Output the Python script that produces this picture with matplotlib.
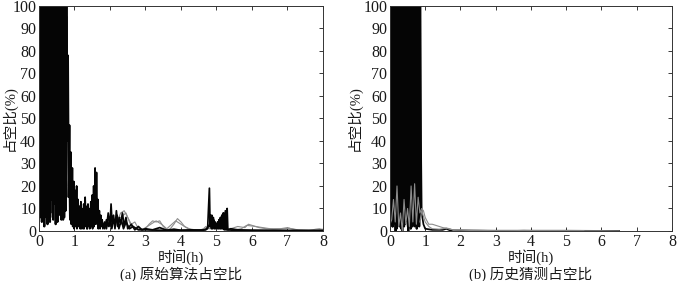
import matplotlib as mpl
import matplotlib.pyplot as plt
import numpy as np

mpl.rcParams['font.family'] = ['Liberation Serif', 'Noto Sans CJK SC']
mpl.rcParams['axes.unicode_minus'] = False

# ---- data (time in h, duty ratio in %) ----
# (a) original algorithm: dense burst 0-0.78h, sampled every 0.02h
a_dense_t = np.linspace(0, 0.78, 40)
a_dense_1 = [25, 100, 10, 100, 4, 100, 18, 100, 6, 88, 12, 100, 3, 100, 22, 100, 8, 100, 14, 80,
             5, 100, 16, 100, 9, 100, 4, 92, 20, 100, 7, 100, 13, 100, 5, 100, 10, 100, 15, 100]
a_dense_2 = [100, 6, 100, 15, 100, 9, 100, 2, 100, 17, 100, 7, 100, 11, 100, 4, 100, 19, 100, 6,
             100, 12, 100, 3, 100, 14, 100, 8, 100, 10, 100, 5, 100, 16, 100, 6, 100, 9, 100, 62]

a_tail_1 = [(0.78, 95), (0.80, 40), (0.82, 78), (0.84, 20), (0.86, 47), (0.88, 12), (0.90, 35),
            (0.92, 8), (0.94, 28), (0.96, 5), (0.98, 22), (1.00, 3), (1.02, 18), (1.04, 6),
            (1.06, 20), (1.08, 2), (1.10, 14), (1.12, 4), (1.14, 11), (1.16, 1), (1.18, 13),
            (1.20, 3), (1.22, 9), (1.24, 1), (1.26, 12), (1.28, 2), (1.30, 15), (1.32, 3),
            (1.34, 8), (1.36, 1), (1.38, 12), (1.40, 2), (1.42, 9), (1.44, 4), (1.46, 13),
            (1.48, 2), (1.50, 16), (1.52, 5), (1.54, 20), (1.56, 4), (1.58, 28), (1.60, 6),
            (1.62, 26), (1.64, 3), (1.66, 14), (1.68, 2), (1.70, 9), (1.72, 1), (1.74, 7),
            (1.76, 2), (1.78, 5), (1.80, 1), (1.85, 4), (1.90, 1), (1.95, 8), (2.00, 2),
            (2.03, 12), (2.06, 3), (2.10, 7), (2.14, 1), (2.18, 9), (2.22, 2), (2.26, 6),
            (2.30, 3), (2.35, 8), (2.40, 2), (2.45, 6), (2.50, 1), (2.60, 3), (2.70, 0.5),
            (2.80, 2), (2.90, 0.5), (3.00, 1), (3.20, 0.5), (3.40, 1.5), (3.60, 0.3), (3.80, 0.8),
            (4.00, 0.3), (4.30, 0.5), (4.60, 0.2), (4.75, 1), (4.80, 19), (4.82, 2), (4.84, 7),
            (4.86, 1), (4.88, 6), (4.90, 2), (4.92, 5), (4.94, 1), (4.96, 4), (4.98, 1),
            (5.00, 3), (5.02, 1), (5.04, 4), (5.06, 1), (5.08, 5), (5.10, 1), (5.12, 6),
            (5.14, 2), (5.16, 7), (5.18, 1), (5.20, 8), (5.22, 0.5), (5.25, 9), (5.28, 1),
            (5.30, 10), (5.32, 0.5), (5.40, 1), (5.60, 0.5), (6.00, 0.3), (7.00, 0.2), (8.00, 0.2)]

a_tail_2 = [(0.81, 60), (0.83, 15), (0.85, 30), (0.87, 5), (0.89, 25), (0.91, 3), (0.93, 18),
            (0.95, 2), (0.97, 15), (0.99, 1), (1.01, 10), (1.03, 2), (1.05, 12), (1.07, 1),
            (1.09, 9), (1.11, 2), (1.13, 10), (1.15, 3), (1.17, 7), (1.19, 1), (1.21, 10),
            (1.23, 2), (1.25, 8), (1.27, 1), (1.29, 9), (1.31, 2), (1.33, 11), (1.35, 1),
            (1.37, 7), (1.39, 3), (1.41, 10), (1.43, 1), (1.45, 8), (1.47, 2), (1.49, 11),
            (1.51, 1), (1.53, 12), (1.55, 2), (1.57, 18), (1.59, 3), (1.61, 22), (1.63, 4),
            (1.65, 12), (1.67, 1), (1.69, 6), (1.71, 2), (1.75, 5), (1.80, 3), (1.85, 1),
            (1.90, 5), (1.95, 2), (2.00, 6), (2.05, 1), (2.10, 5), (2.15, 2), (2.20, 7),
            (2.25, 1), (2.32, 5), (2.38, 1), (2.45, 4), (2.55, 1), (2.65, 2), (2.80, 0.5),
            (3.00, 0.5), (3.50, 0.3), (4.20, 0.3), (4.70, 0.5), (4.81, 3), (4.83, 6), (4.85, 2),
            (4.87, 7), (4.89, 1), (4.91, 6), (4.93, 2), (4.95, 4), (4.97, 2), (4.99, 3),
            (5.01, 2), (5.03, 4), (5.05, 2), (5.07, 5), (5.09, 2), (5.11, 6), (5.13, 1),
            (5.15, 7), (5.17, 2), (5.19, 8), (5.21, 1), (5.23, 7), (5.26, 0.5), (5.30, 0.5),
            (5.50, 0.3), (6.50, 0.2), (8.00, 0.1)]

a_grey_1 = [(2.2, 4), (2.3, 8), (2.4, 9), (2.5, 6), (2.6, 3), (2.7, 4), (2.8, 1), (3.0, 1),
            (3.1, 3), (3.2, 4.5), (3.3, 4), (3.4, 4.5), (3.5, 2), (3.6, 0.5), (3.7, 1), (3.8, 3),
            (3.9, 5.5), (4.0, 4), (4.1, 2), (4.3, 0.5), (4.6, 0.5), (4.7, 2), (4.8, 1), (5.4, 1),
            (5.6, 2), (5.8, 1.5), (5.9, 3), (6.0, 2.5), (6.2, 1.5), (6.4, 1), (6.6, 1), (6.8, 1),
            (7.0, 1.5), (7.1, 1), (7.3, 0.3), (7.6, 0.2), (7.8, 0.8), (7.9, 1), (8.0, 0.5)]
a_grey_2 = [(2.3, 6), (2.45, 8), (2.6, 2), (2.9, 0.5), (3.15, 3), (3.3, 4.5), (3.45, 3), (3.6, 1),
            (3.85, 4.5), (4.0, 3), (4.2, 1), (4.5, 0.3), (4.75, 1.5), (5.5, 0.5), (5.7, 1),
            (5.85, 2.5), (6.1, 2), (6.3, 1.5), (6.6, 0.8), (6.9, 1), (7.05, 1.2), (7.3, 0.5),
            (7.7, 0.3), (8.0, 0.8)]

# (b) history-guess: dense burst 0-0.86h
b_dense_t = np.linspace(0, 0.86, 44)
b_dense_1 = [3, 100, 5, 100, 2, 100, 6, 100, 0, 100, 4, 100, 3, 100, 7, 100, 1, 100, 5, 100, 2, 100,
             4, 100, 6, 100, 0, 100, 3, 100, 5, 100, 2, 100, 4, 100, 6, 100, 1, 100, 3, 100, 5, 100]
b_dense_2 = [100, 4, 100, 2, 100, 6, 100, 3, 100, 1, 100, 5, 100, 2, 100, 4, 100, 0, 100, 6, 100, 3,
             100, 5, 100, 2, 100, 4, 100, 1, 100, 6, 100, 3, 100, 2, 100, 5, 100, 4, 100, 2, 100, 30]
b_tail = [(0.86, 100), (0.88, 40), (0.90, 8), (0.95, 3), (1.00, 1), (1.20, 0.5), (1.50, 0.5),
          (1.60, 1), (1.70, 0.3), (2.00, 0.2), (3.00, 0.1), (4.00, 0.1), (5.00, 0.1), (6.50, 0)]
b_grey_1 = [(0.0, 3), (0.05, 5), (0.10, 14), (0.15, 4), (0.20, 20), (0.25, 2), (0.30, 8),
            (0.35, 0), (0.40, 14), (0.45, 3), (0.50, 10), (0.55, 2), (0.60, 20), (0.65, 4),
            (0.70, 21), (0.75, 3), (0.80, 15), (0.85, 8), (0.90, 10), (0.95, 9), (1.0, 6),
            (1.1, 3), (1.2, 3), (1.3, 2.5), (1.4, 2), (1.5, 1.5), (1.6, 1.2), (1.7, 0.8),
            (1.8, 0.5), (2.0, 0.4), (2.5, 0.3), (3.0, 0.1), (4.0, 0.2), (5.0, 0.1), (6.0, 0.1),
            (6.5, 0.0)]
b_grey_2 = [(0.85, 4), (0.9, 9), (1.0, 4), (1.1, 2), (1.2, 1), (1.4, 0.8), (1.5, 1), (1.6, 1.3),
            (1.7, 1), (1.8, 0.3), (2.0, 0.5), (2.3, 0.2), (2.6, 0.1), (3.5, 0.1), (3.8, 0.3),
            (4.2, 0.1), (5.5, 0.1)]

x_ticks = list(range(0, 9))
y_ticks = list(range(0, 101, 10))
captions = ['(a) 原始算法占空比', '(b) 历史猜测占空比']

BLACK = '#050505'
GREY = '#8c8c8c'
LW_DENSE = 1.5
LW_TAIL = 1.25


def unzip(pairs):
    t, v = zip(*pairs)
    return np.array(t), np.array(v)


def style_axes(ax, ylab_x):
    ax.set_xlim(0, 8)
    ax.set_ylim(0, 100)
    ax.set_xticks(x_ticks)
    ax.set_yticks(y_ticks)
    ax.tick_params(direction='in', top=True, right=True, length=3, width=0.6,
                   labelsize=11.5, pad=2, colors='#1a1a1a')
    for s in ax.spines.values():
        s.set_linewidth(0.7)
        s.set_color('#333333')
    ax.set_xlabel('时间(h)', fontsize=10.5, color='#1a1a1a')
    ax.set_ylabel('占空比(%)', fontsize=10.5, color='#1a1a1a')
    ax.xaxis.set_label_coords(0.5, -0.115)
    ax.yaxis.set_label_coords(ylab_x, 0.5)
    ax.xaxis.label.set_va('center')
    ax.yaxis.label.set_va('center')


fig = plt.figure(figsize=(6.77, 2.81), dpi=100)
ax_a = fig.add_axes([0.0576, 0.178, 0.4195, 0.801])
ax_b = fig.add_axes([0.576, 0.178, 0.4165, 0.801])

# panel (a)
ax_a.plot(a_dense_t, a_dense_1, color=BLACK, lw=LW_DENSE)
ax_a.plot(a_dense_t + 0.01, a_dense_2, color=BLACK, lw=LW_DENSE)
ax_a.plot(*unzip(a_grey_1), color=GREY, lw=0.8)
ax_a.plot(*unzip(a_grey_2), color=GREY, lw=0.8)
ax_a.plot(*unzip(a_tail_1), color=BLACK, lw=LW_TAIL)
ax_a.plot(*unzip(a_tail_2), color=BLACK, lw=LW_TAIL)

# panel (b)
ax_b.plot(b_dense_t, b_dense_1, color=BLACK, lw=LW_DENSE)
ax_b.plot(b_dense_t + 0.01, b_dense_2, color=BLACK, lw=LW_DENSE)
ax_b.plot(*unzip(b_tail), color=BLACK, lw=LW_TAIL)
ax_b.plot(*unzip(b_grey_1), color=GREY, lw=0.8)
ax_b.plot(*unzip(b_grey_2), color=GREY, lw=0.8)

style_axes(ax_a, -0.105)
style_axes(ax_b, -0.127)

fig.text(0.267, 0.022, captions[0], ha='center', va='center', fontsize=10.5, color='#1a1a1a')
fig.text(0.784, 0.022, captions[1], ha='center', va='center', fontsize=10.5, color='#1a1a1a')

fig.savefig('out.png', dpi=100)
